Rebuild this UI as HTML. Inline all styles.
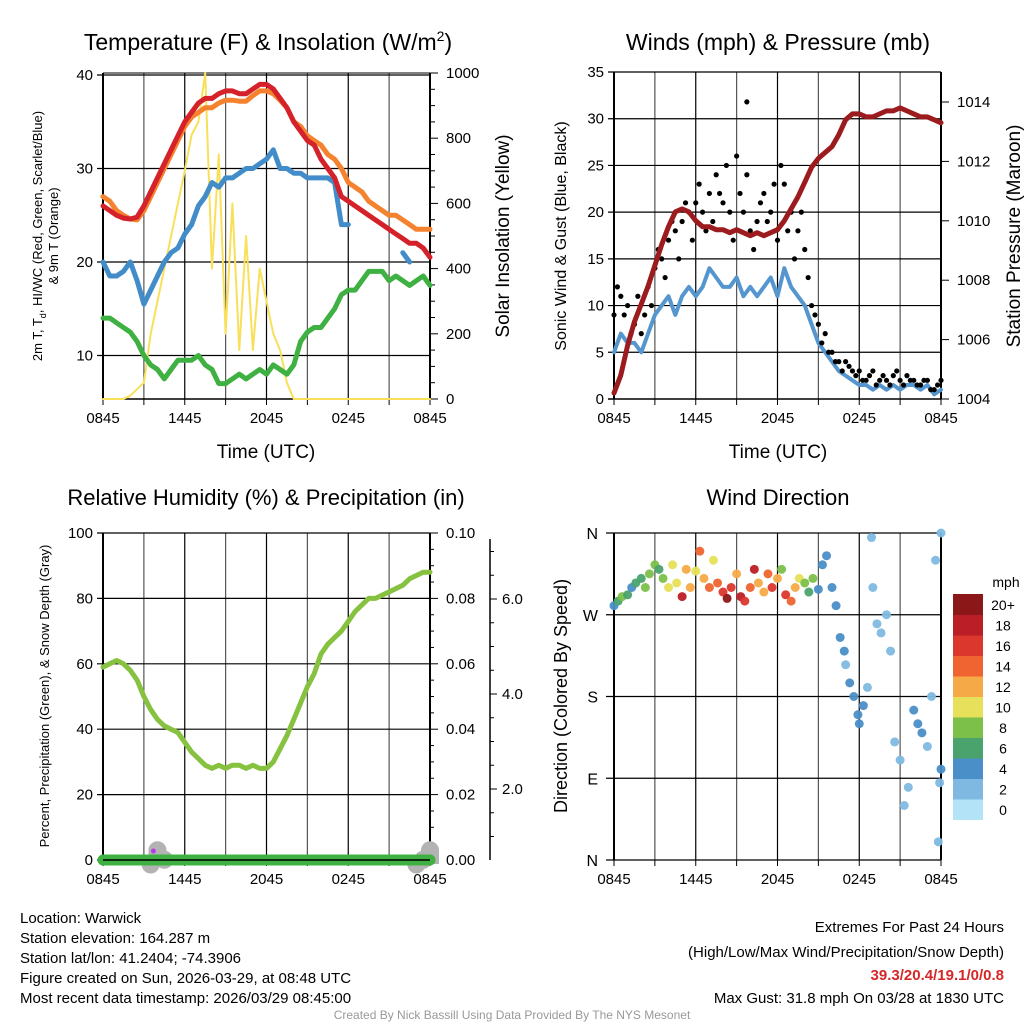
<!DOCTYPE html>
<html><head><meta charset="utf-8">
<style>
html,body{margin:0;padding:0;background:#fff;}
svg{display:block;font-family:"Liberation Sans",Arial,sans-serif;}
</style></head>
<body>
<svg id="fig" width="1024" height="1024" viewBox="0 0 1024 1024" xmlns="http://www.w3.org/2000/svg">
<rect width="1024" height="1024" fill="#fff"/>
<g id="layer"></g>
<text x="268" y="50" font-size="23" text-anchor="middle">Temperature (F) &amp; Insolation (W/m<tspan dy="-9" font-size="14">2</tspan><tspan dy="9">)</tspan></text>
<text x="778" y="50" font-size="23" text-anchor="middle">Winds (mph) &amp; Pressure (mb)</text>
<text x="266" y="505" font-size="22" text-anchor="middle">Relative Humidity (%) &amp; Precipitation (in)</text>
<text x="778" y="505" font-size="22" text-anchor="middle">Wind Direction</text>
<text x="266" y="458" font-size="19" text-anchor="middle">Time (UTC)</text>
<text x="778" y="458" font-size="19" text-anchor="middle">Time (UTC)</text>
<text transform="translate(42,236) rotate(-90)" font-size="13" text-anchor="middle">2m T, T<tspan dy="4" font-size="9">d</tspan><tspan dy="-4">, HI/WC (Red, Green, Scarlet/Blue)</tspan></text>
<text transform="translate(58,236) rotate(-90)" font-size="13" text-anchor="middle">&amp; 9m T (Orange)</text>
<text transform="translate(509,236) rotate(-90)" font-size="19" text-anchor="middle">Solar Insolation (Yellow)</text>
<text transform="translate(566,236) rotate(-90)" font-size="16" text-anchor="middle">Sonic Wind &amp; Gust (Blue, Black)</text>
<text transform="translate(1020,236) rotate(-90)" font-size="19" text-anchor="middle">Station Pressure (Maroon)</text>
<text transform="translate(49,696) rotate(-90)" font-size="13" text-anchor="middle">Percent, Precipitation (Green), &amp; Snow Depth (Gray)</text>
<text transform="translate(567,696) rotate(-90)" font-size="18" text-anchor="middle">Direction (Colored By Speed)</text>
<g font-size="15">
<text x="20" y="923">Location: Warwick</text>
<text x="20" y="943">Station elevation: 164.287 m</text>
<text x="20" y="963">Station lat/lon: 41.2404; -74.3906</text>
<text x="20" y="983">Figure created on Sun, 2026-03-29, at 08:48 UTC</text>
<text x="20" y="1003">Most recent data timestamp: 2026/03/29 08:45:00</text>
</g>
<g font-size="15" text-anchor="end">
<text x="1004" y="932">Extremes For Past 24 Hours</text>
<text x="1004" y="957">(High/Low/Max Wind/Precipitation/Snow Depth)</text>
<text x="1004" y="980" fill="#d62728" font-weight="bold">39.3/20.4/19.1/0/0.8</text>
<text x="1004" y="1003">Max Gust: 31.8 mph On 03/28 at 1830 UTC</text>
</g>
<text x="512" y="1019" font-size="12" fill="#999" text-anchor="middle">Created By Nick Bassill Using Data Provided By The NYS Mesonet</text>
</svg>
<script>
// ---- data (sampled every 30 min, hours since 0845 UTC) ----
const hours=[];for(let i=0;i<=48;i++)hours.push(i/2);
const quarterHours=[];for(let i=0;i<48;i++)quarterHours.push(i/2+0.25);
const timeTicks=["0845","1445","2045","0245","0845"];
const tempRed=[26,25.5,25,24.7,24.6,24.8,26,27.5,29,30.5,32,33.5,35,36,37,37.5,37.5,38,38.3,38.3,38,38,38.5,39,39,38.5,37.5,36.5,35,34,33,32.5,31,30,29,27,26.5,26,25.5,25,24.5,24,23.5,23,22.5,22,22,21.5,20.5];
const temp9m=[27,26.5,25.5,25,24.6,24.5,25.5,27,28.5,30,31.5,33,34.5,35.5,36,36.5,36.5,37,37.3,37.3,37.2,37.2,37.8,38.3,38.3,38,37.3,36.5,35,34.5,33.5,33,32.5,31.5,31,30,28.5,28,27.5,26.5,26,25.5,25,25,24.5,24,23.5,23.5,23.5];
const tempHI=[20,18.5,18.5,19,20,18,15.5,17,18.5,20,21,21.5,23,24,26,27,28.5,28,29,29,29.5,30,30,30.5,31,32,30,30,29.5,29.5,29,29,29,29,28.5,24,24,null,null,23.5,null,null,null,null,21,20,null,null,18.5];
const dewpoint=[14,14,13.5,13,12.5,11.5,10,9,8.5,7.5,8.5,9.5,9.5,9.5,10,9,8.5,7,7,7.5,8,7.5,8,8.5,8,9,8.5,8,9,11.5,12.5,13,13,14,15,16.5,17,17,18,19,19,19,18,18.5,18,17.5,18,18.5,17.5];
const solar=[0,0,0,0,10,30,50,200,300,400,500,600,700,810,850,1000,400,750,200,600,150,500,150,400,300,200,150,50,0,0,0,0,0,0,0,0,0,0,0,0,0,0,0,0,0,0,0,0,0];
const windSpeed=[5,7,6,6,5,7,9,10,11,9,11,12,11,12,14,13,12,12,13,11,12,11,12,13,11,14,12,11,10,8,6,5,4,3,2.5,2,1.5,1.5,1,1.5,1,1.5,1,1.5,1.5,1,1.5,0.5,1];
const windGust=[9,11,10,8,7,12,14,15,17,18,19,20,21,20,22,24,21,20,26,20,18,19,22,20,17,23,20,18,16,10,8,7,5,4,4,3,3,2,3,2,2,2.5,2,2.5,2,1.5,2,1,2];
const windGustQ=[12,9,7,11,9,10,16,13,19,15,21,17,23,18,19,22,25,17,22,24,16,21,19,23,25,18,15,20,13,9,6,5,4,3,3.5,2.5,2,2.5,1.5,2.5,1.5,3,1.5,2,1.5,2,1,1.5];
const pressure=[1004.2,1004.8,1005.8,1006.6,1007.2,1007.8,1008.5,1009.2,1009.8,1010.3,1010.4,1010.3,1010,1009.8,1009.8,1009.7,1009.7,1009.6,1009.7,1009.6,1009.5,1009.6,1009.5,1009.6,1009.7,1010,1010.4,1010.8,1011.3,1011.8,1012.1,1012.3,1012.5,1012.9,1013.4,1013.6,1013.6,1013.5,1013.5,1013.6,1013.7,1013.7,1013.8,1013.7,1013.6,1013.5,1013.5,1013.4,1013.3];
const rh=[59,60,61,60,58,55,50,46,43,41,40,39,36,33,31,29,28,29,28,29,29,28,29,28,28,30,34,38,43,48,53,57,63,66,68,70,73,76,78,80,80,81,82,83,84,86,87,88,88];
const dirHours=[0,0.3,0.6,1,1.3,1.6,2,2.3,2.6,3,3.3,3.6,4,4.3,4.6,5,5.3,5.6,6,6.3,6.6,7,7.3,7.6,8,8.3,8.6,9,9.3,9.6,10,10.3,10.6,11,11.3,11.6,12,12.3,12.6,13,13.3,13.6,14,14.3,14.6,15,15.3,15.6,16,16.3,16.6,16.9,17,17.3,17.6,17.9,18,18.3,18.6,18.9,19,19.3,19.6,20,20.3,20.6,21,21.3,21.6,22,22.3,22.6,23,23.3,23.6,24,24,23.8,23.9];
const dirDeg=[280,285,290,292,300,305,310,300,315,325,320,310,300,325,305,290,320,300,318,340,310,300,330,305,295,288,300,315,290,285,300,320,305,295,315,300,310,320,292,285,300,310,305,295,310,298,325,335,300,280,245,230,215,195,180,160,150,170,190,355,300,260,250,270,230,130,110,60,80,165,150,140,125,180,330,100,360,20,85];
const dirSpeed=[4,6,7,6,4,5,6,8,7,7,6,8,10,9,10,18,12,12,9,13,12,14,10,13,16,19,15,12,18,16,14,17,11,12,13,16,12,8,16,14,12,10,7,6,7,4,4,4,3,3,3,3,2,4,3,3,4,3,2,1,1,2,2,1,1,1,1,1,1,3,3,4,2,1,1,4,1,1,2];
const precip=[0,0,0,0,0,0,0,0,0,0,0,0,0,0,0,0,0,0,0,0,0,0,0,0,0,0,0,0,0,0,0,0,0,0,0,0,0,0,0,0,0,0,0,0,0,0,0,0,0];
const snowDepth=[0,0,0,0,0,0,0,0.6,0.9,0.7,0,0,0,0,0,0,0,0,0,0,0,0,0,0,0,0,0,0,0,0,0,0,0,0,0,0,0,0,0,0,0,0,0,0,0,0,0.6,0.7,0.9];
const speedColors=["#b3e3f7","#7fb9e1","#4a8fc7","#4aa36d","#7cc04a","#e6e05a","#f6aa47","#ef6430","#dc372c","#bc1e27","#8c1719"];
const speedLabels=["0","2","4","6","8","10","12","14","16","18","20+"];

const NS="http://www.w3.org/2000/svg";
const layer=document.getElementById('layer');
function mk(tag,attrs,parent){const e=document.createElementNS(NS,tag);for(const k in attrs)e.setAttribute(k,attrs[k]);(parent||layer).appendChild(e);return e;}
function lin(d0,d1,r0,r1){return v=>r0+(v-d0)*(r1-r0)/(d1-d0);}

function frame(x0,x1,y0,y1,name){
  const g=mk('g',{});
  
  
  const X=lin(0,24,x0,x1);
  for(let h=0;h<=24;h+=3){
    mk('line',{x1:X(h),x2:X(h),y1:y0,y2:y1,stroke:(h%6===0)?'#000':'#555','stroke-width':(h===0||h===24)?2:1.2},g);
    mk('line',{x1:X(h),x2:X(h),y1:y1,y2:y1+6,stroke:'#000','stroke-width':1},g);
  }
  timeTicks.forEach((t,i)=>{const tx=mk('text',{x:X(i*6),y:y1+24,'font-size':15,'text-anchor':'middle'},g);tx.textContent=t;});
  return X;
}
function path(X,Y,vals,attrs,name,xs){
  let d='',pen=false;
  vals.forEach((v,i)=>{if(v===null){pen=false;return;}d+=(pen?'L':'M')+X((xs||hours)[i]).toFixed(1)+','+Y(v).toFixed(1);pen=true;});
  const p=mk('path',Object.assign({d:d,fill:'none','stroke-linejoin':'round','stroke-linecap':'round'},attrs));
  
  
  return p;
}
function hline(x0,x1,y,c,w){mk('line',{x1:x0,x2:x1,y1:y,y2:y,stroke:c||'#000','stroke-width':w||1.2});}
function label(x,y,t,anchor,size){const e=mk('text',{x:x,y:y,'font-size':size||15,'text-anchor':anchor||'end'});e.textContent=t;return e;}

// ---- Panel 1: temperature ----
(function(){
  const x0=103,x1=430,yT=73,yB=399;
  const X=frame(x0,x1,yT,yB,'temperature');
  const Y=lin(40,5.35,75,yB);
  const YS=lin(0,1000,yB,73);
  [10,20,30,40].forEach(v=>{hline(x0-6,x1,Y(v));label(x0-10,Y(v)+5,String(v));});
  hline(x0,x1,73,'#000',1);
  hline(x0,x1,yB,'#000',1.5);
  for(let v=0;v<=1000;v+=50){mk('line',{x1:x1,x2:x1+(v%200===0?8:5),y1:YS(v),y2:YS(v),stroke:'#000','stroke-width':1});}
  [0,200,400,600,800,1000].forEach(v=>label(x1+16,YS(v)+5,String(v),'start'));
  mk('line',{x1:x1,x2:x1,y1:73,y2:yB,stroke:'#000','stroke-width':2});
  path(X,YS,solar,{stroke:'#f8e05a','stroke-width':2},'solar-insolation-line');
  path(X,Y,dewpoint,{stroke:'#3fb143','stroke-width':5},'dewpoint-line');
  path(X,Y,tempHI,{stroke:'#428dc9','stroke-width':5},'heat-index-wind-chill-line');
  path(X,Y,temp9m,{stroke:'#f5822e','stroke-width':5},'temperature-9m-line');
  path(X,Y,tempRed,{stroke:'#d5212a','stroke-width':5},'temperature-2m-line');
})();

// ---- Panel 2: winds & pressure ----
(function(){
  const x0=614,x1=941,yT=72,yB=399;
  const X=frame(x0,x1,yT,yB,'winds');
  const Y=lin(0,35,yB,72);
  const YP=lin(1004,1014,yB,102);
  [0,5,10,15,20,25,30,35].forEach(v=>{hline(x0-6,x1,Y(v),'#000',v===0?1.5:1.2);label(x0-10,Y(v)+5,String(v));});
  [1004,1006,1008,1010,1012,1014].forEach(v=>{mk('line',{x1:x1,x2:x1+8,y1:YP(v),y2:YP(v),stroke:'#000'});label(x1+16,YP(v)+5,String(v),'start');});
  mk('line',{x1:x1,x2:x1,y1:72,y2:yB,stroke:'#000','stroke-width':2});
  path(X,Y,windSpeed,{stroke:'#5596cf','stroke-width':4},'sustained-wind-line');
  const g=mk('g',{});
  
  
  windGust.forEach((v,i)=>{const c=mk('circle',{cx:X(hours[i]),cy:Y(v),r:2.6,fill:'#000'},g);
    
    });
  windGustQ.forEach((v,i)=>{const c=mk('circle',{cx:X(quarterHours[i]),cy:Y(v),r:2.6,fill:'#000'},g);
    
    });
  const mx=mk('circle',{cx:X(9.75),cy:Y(31.8),r:2.6,fill:'#000'},g);
  
  
  path(X,YP,pressure,{stroke:'#9b1b1e','stroke-width':5},'pressure-line');
})();

// ---- Panel 3: RH & precip ----
(function(){
  const x0=103,x1=430,yT=533,yB=860;
  const X=frame(x0,x1,yT,yB,'humidity');
  const Y=lin(0,100,yB,yT);
  const YPr=lin(0,0.1,yB,yT);
  const YSn=lin(0,2,884,789);
  [0,20,40,60,80,100].forEach(v=>{hline(x0-6,x1,Y(v));label(x0-10,Y(v)+5,String(v));});
  for(let v=0;v<=0.1001;v+=0.005){mk('line',{x1:x1,x2:x1+(Math.round(v*1000)%20===0?8:4),y1:YPr(v),y2:YPr(v),stroke:'#000'});}
  [0,0.02,0.04,0.06,0.08,0.1].forEach(v=>label(x1+16,YPr(v)+5,v.toFixed(2),'start'));
  mk('line',{x1:x1,x2:x1,y1:yT,y2:yB,stroke:'#000','stroke-width':2});
  mk('line',{x1:490,x2:490,y1:yT+6,y2:yB,stroke:'#000','stroke-width':1.5});
  for(let v=0.5;v<=7.5;v+=0.5){const yy=YSn(v);if(yy>=yT+6&&yy<=yB)mk('line',{x1:490,x2:(v%2===0)?497:494,y1:yy,y2:yy,stroke:'#000'});}
  [2,4,6].forEach(v=>label(502,YSn(v)+5,v.toFixed(1),'start'));
  const gs=mk('g',{});
  
  
  snowDepth.forEach((v,i)=>{if(v>0){mk('circle',{cx:X(hours[i]),cy:YSn(v)+9,r:9,fill:'#b3b3b3'},gs);mk('rect',{x:X(hours[i])-9,y:YSn(v)+9,width:18,height:Math.max(0,yB+4-YSn(v)-9),fill:'#b3b3b3'},gs);}});
  path(X,YPr,precip,{stroke:'#3fb143','stroke-width':11},'precipitation-line');
  hline(x0,x1,yB,'#000',1.5);
  mk('circle',{cx:X(3.7),cy:851,r:2.5,fill:'#b23ce6'});
  path(X,Y,rh,{stroke:'#86c240','stroke-width':5},'relative-humidity-line');
})();

// ---- Panel 4: wind direction ----
(function(){
  const x0=614,x1=941,yT=533,yB=860;
  const X=frame(x0,x1,yT,yB,'wind-direction');
  const Y=lin(360,0,yT,yB);
  [[360,'N'],[270,'W'],[180,'S'],[90,'E'],[0,'N']].forEach(([v,t])=>{hline(x0-8,x1,Y(v));label(x0-16,Y(v)+6,t,'end',16);});
  const g=mk('g',{});
  
  
  dirDeg.forEach((d,i)=>{const ci=Math.min(10,Math.round(dirSpeed[i]/2));
    const c=mk('circle',{cx:X(dirHours[i]),cy:Y(d),r:4.5,fill:speedColors[ci],'fill-opacity':0.95},g);
    
    });
  const cb=mk('g',{});
  
  
  const bh=20.5,by=594;
  speedColors.forEach((c,i)=>{mk('rect',{x:953,y:by+(10-i)*bh,width:30,height:bh+0.5,fill:c},cb);
    const t=mk('text',{x:1003,y:by+(10-i)*bh+16,'font-size':14,'text-anchor':'middle'},cb);t.textContent=speedLabels[i];});
  const u=mk('text',{x:1006,y:587,'font-size':14,'text-anchor':'middle'},cb);u.textContent='mph';
})();
</script>
</body></html>
